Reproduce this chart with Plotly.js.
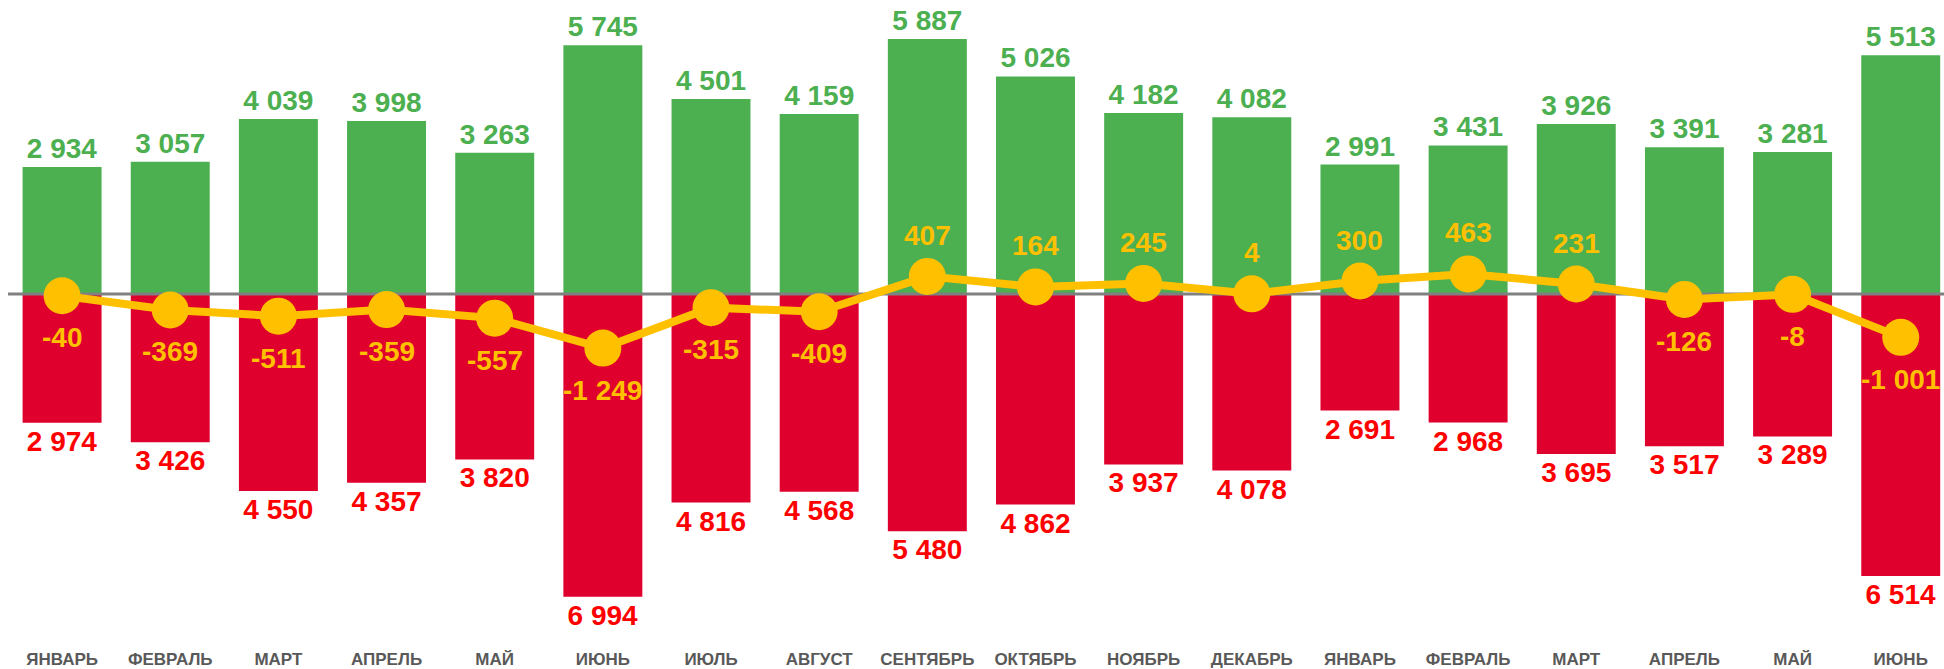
<!DOCTYPE html>
<html>
<head>
<meta charset="utf-8">
<script src="https://cdn.plot.ly/plotly-3.0.1.min.js"></script>
<style>html,body{margin:0;padding:0;background:#fff;}#chart{width:1944px;height:669px;}</style>
</head>
<body>
<div id="chart"></div>
<script>
var months = ["ЯНВАРЬ","ФЕВРАЛЬ","МАРТ","АПРЕЛЬ","МАЙ","ИЮНЬ","ИЮЛЬ","АВГУСТ","СЕНТЯБРЬ","ОКТЯБРЬ","НОЯБРЬ","ДЕКАБРЬ","ЯНВАРЬ","ФЕВРАЛЬ","МАРТ","АПРЕЛЬ","МАЙ","ИЮНЬ"];
var income  = [2934,3057,4039,3998,3263,5745,4501,4159,5887,5026,4182,4082,2991,3431,3926,3391,3281,5513];
var expense = [2974,3426,4550,4357,3820,6994,4816,4568,5480,4862,3937,4078,2691,2968,3695,3517,3289,6514];
var net     = [-40,-369,-511,-359,-557,-1249,-315,-409,407,164,245,4,300,463,231,-126,-8,-1001];

function fmt(v){
  var s = String(Math.abs(v)).replace(/\B(?=(\d{3})+(?!\d))/g, " ");
  return (v < 0 ? "-" : "") + s;
}
var idx = months.map(function(_, i){ return i; });
var FONT = "Liberation Sans, Arial, sans-serif";

var traces = [
  {
    type: "bar", x: idx, y: income,
    marker: {color: "#4CAF50"},
    text: income.map(fmt), textposition: "outside", constraintext: "none", cliponaxis: false,
    textfont: {family: FONT, size: 28, color: "#4CAF50", weight: "bold"},
    hoverinfo: "skip"
  },
  {
    type: "bar", x: idx, y: expense.map(function(v){ return -v; }),
    marker: {color: "#E0002D"},
    text: expense.map(fmt), textposition: "outside", constraintext: "none", cliponaxis: false,
    textfont: {family: FONT, size: 28, color: "#FF0000", weight: "bold"},
    hoverinfo: "skip"
  },
  {
    type: "scatter", mode: "lines", x: [-0.5, months.length - 0.5], y: [0, 0],
    line: {color: "#808080", width: 3}, hoverinfo: "skip", cliponaxis: true
  },
  {
    type: "scatter", mode: "lines+markers", x: idx, y: net,
    line: {color: "#FFC000", width: 8},
    marker: {color: "#FFC000", size: 37},
    cliponaxis: false, hoverinfo: "skip"
  }
];

var annotations = net.map(function(v, i){
  return {
    x: i, y: v, xref: "x", yref: "y", text: fmt(v), showarrow: false,
    yshift: v >= 0 ? 41 : -42,
    font: {family: FONT, size: 28, color: "#FFC000", weight: "bold"}
  };
});

var layout = {
  width: 1944, height: 669,
  margin: {l: 8, r: 0, t: 0, b: 24},
  paper_bgcolor: "#ffffff", plot_bgcolor: "#ffffff",
  barmode: "relative", bargap: 0.27,
  showlegend: false,
  xaxis: {
    range: [-0.5, 17.4], tickvals: idx, ticktext: months,
    showgrid: false, zeroline: false, showline: false, ticks: "",
    ticklabelstandoff: 2,
    tickfont: {family: FONT, size: 17, color: "#595959", weight: "bold"},
    fixedrange: true
  },
  yaxis: {
    range: [-8106, 6790], visible: false, showgrid: false, zeroline: false, fixedrange: true
  },
  annotations: annotations
};

Plotly.newPlot("chart", traces, layout, {displayModeBar: false, staticPlot: true});
</script>
</body>
</html>
